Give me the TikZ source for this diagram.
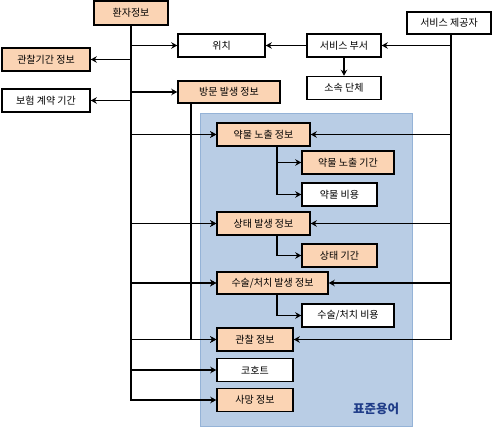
\documentclass[tikz,border=0pt]{standalone}
\usepackage{fontspec}
\setmainfont{Noto Sans CJK KR}
\usetikzlibrary{arrows.meta}

\definecolor{peach}{HTML}{FBD4B4}
\definecolor{stdblue}{HTML}{B9CDE5}
\definecolor{stdedge}{HTML}{95B3D7}
\definecolor{stdtext}{HTML}{1F3C88}

\begin{document}
\begin{tikzpicture}[x=1pt,y=-1pt,line width=1.4pt,>={Stealth[length=6pt,width=6.5pt]},
  box/.style={draw,line width=1.5pt,minimum height=23pt,inner sep=0pt,font=\fontsize{10}{12}\selectfont},
  obox/.style={box,fill=peach},
  wbox/.style={box,fill=white}]
\useasboundingbox (0,0) rectangle (493,427);

% standard terminology area
\draw[fill=stdblue,draw=stdedge,line width=.8pt] (200,113) rectangle (412,426);
\node[text=stdtext,font=\fontsize{12.5}{14}\selectfont\bfseries] (pj) at (376,409) {표준용어};

\node[obox,minimum width=74pt,minimum height=24pt] (hj) at (131,13) {환자정보};
\node[wbox,minimum width=87pt] (wc) at (221.5,45.5) {위치};
\node[wbox,minimum width=74pt] (sb) at (344,45.5) {서비스 부서};
\node[wbox,minimum width=84pt,minimum height=22pt] (sp) at (449,23) {서비스 제공자};
\node[wbox,minimum width=74pt] (so) at (344,88) {소속 단체};
\node[obox,minimum width=88pt] (gc) at (46,59.5) {관찰기간 정보};
\node[wbox,minimum width=88pt] (bh) at (46,100.5) {보험 계약 기간};
\node[obox,minimum width=102pt,minimum height=22pt] (bm) at (229,92) {방문 발생 정보};

\node[obox,minimum width=93pt] (yn) at (263.5,134.5) {약물 노출 정보};
\node[obox,minimum width=92pt] (yg) at (348,162.5) {약물 노출 기간};
\node[wbox,minimum width=75pt] (yb) at (339.5,194.5) {약물 비용};
\node[obox,minimum width=93pt] (st) at (263.5,223.5) {상태 발생 정보};
\node[obox,minimum width=75pt] (stg) at (339.5,255.5) {상태 기간};
\node[obox,minimum width=111pt,minimum height=22pt] (ss) at (272.5,283) {수술/처치 발생 정보};
\node[wbox,minimum width=92pt] (ssb) at (348,315.5) {수술/처치 비용};
\node[obox,minimum width=76pt] (gj) at (255,339.5) {관찰 정보};
\node[wbox,minimum width=76pt] (ch) at (255,370) {코호트};
\node[obox,minimum width=76pt] (sm) at (255,400) {사망 정보};

% patient trunk
\draw[->] (hj.south) |- (wc.west);
\draw[->] (hj.south) |- (gc.east);
\draw[->] (hj.south) |- (bh.east);
\draw[->] (hj.south) |- (bm.west);
\draw[->] (hj.south) |- (yn.west);
\draw[->] (hj.south) |- (st.west);
\draw[->] (hj.south) |- (ss.west);
\draw[->] (hj.south) |- (gj.west);
\draw[->] (hj.south) |- (ch.west);
\draw[->] (hj.south) |- (sm.west);

% visit trunk
\draw[->] ([xshift=-38pt]bm.south) |- (yn.west);
\draw[->] ([xshift=-38pt]bm.south) |- (st.west);
\draw[->] ([xshift=-38pt]bm.south) |- (ss.west);
\draw[->] ([xshift=-38pt]bm.south) |- (gj.west);

% provider trunk
\draw[->] ([xshift=2pt]sp.south) |- (sb.east);
\draw[->] ([xshift=2pt]sp.south) |- (yn.east);
\draw[->] ([xshift=2pt]sp.south) |- (st.east);
\draw[->] ([xshift=2pt]sp.south) |- (ss.east);
\draw[->] ([xshift=2pt]sp.south) |- (gj.east);

\draw[->] (sb.west) -- (wc.east);
\draw[->] (sb.south) -- (so.north);

% details
\draw[->] ([xshift=13.5pt]yn.south) |- (yg.west);
\draw[->] ([xshift=13.5pt]yn.south) |- (yb.west);
\draw[->] ([xshift=13.5pt]st.south) |- (stg.west);
\draw[->] ([xshift=4.5pt]ss.south) |- (ssb.west);

\end{tikzpicture}
\end{document}
